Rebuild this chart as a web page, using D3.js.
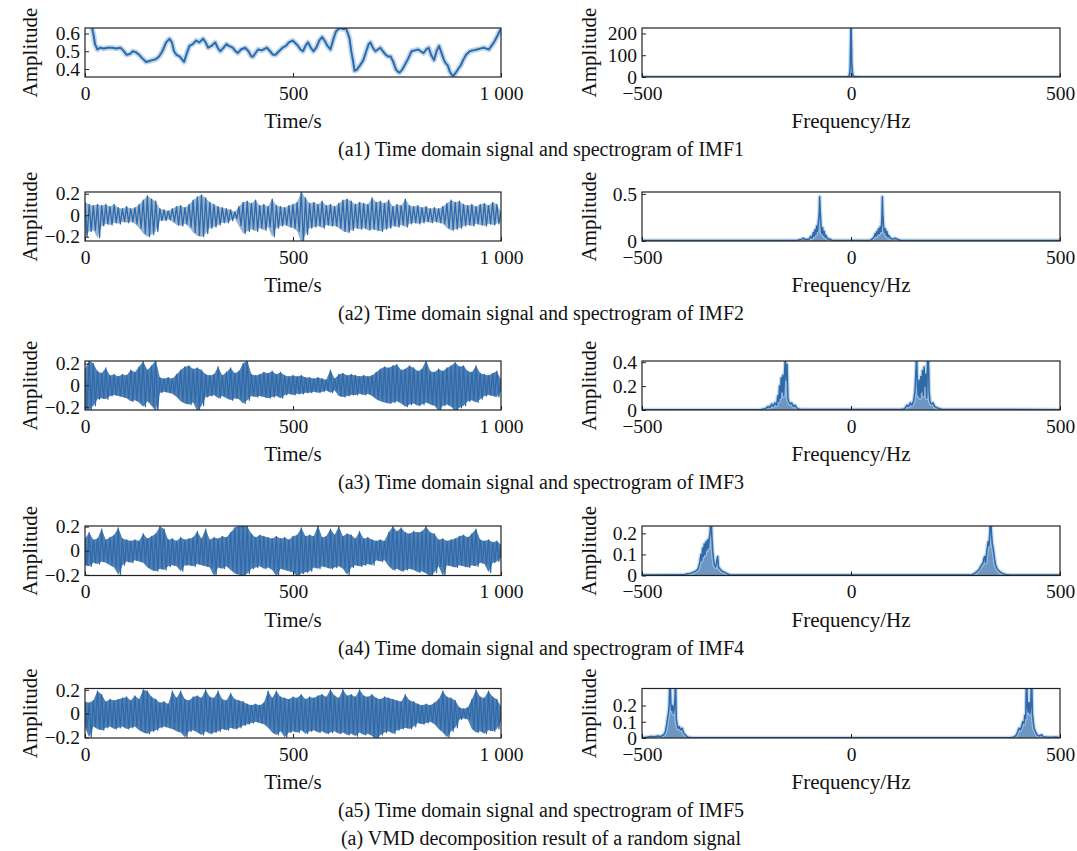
<!DOCTYPE html>
<html>
<head>
<meta charset="utf-8">
<script src="https://cdn.jsdelivr.net/npm/d3@7"></script>
<style>
  body { margin: 0; background: #fff; }
  svg text { font-family: "Liberation Serif", "Times New Roman", serif; fill: #111; }
</style>
</head>
<body>
<svg id="fig" width="1077" height="851"></svg>
<script>
// ---------- tick values and labels ----------
const timeTicks = [0, 500, 1000];
const timeTickLabels = ["0", "500", "1 000"];
const freqTicks = [-500, 0, 500];
const freqTickLabels = ["\u2212500", "0", "500"];

const captions = [
  "(a1) Time domain signal and spectrogram of IMF1",
  "(a2) Time domain signal and spectrogram of IMF2",
  "(a3) Time domain signal and spectrogram of IMF3",
  "(a4) Time domain signal and spectrogram of IMF4",
  "(a5) Time domain signal and spectrogram of IMF5"
];
const figureTitle = "(a) VMD decomposition result of a random signal";

// y-axis ranges and ticks for the time-domain panels
const timeYDomains = [[0.355, 0.631], [-0.24, 0.216], [-0.23, 0.224], [-0.206, 0.205], [-0.206, 0.211]];
const timeYTicks = [[0.4, 0.5, 0.6], [-0.2, 0, 0.2], [-0.2, 0, 0.2], [-0.2, 0, 0.2], [-0.2, 0, 0.2]];
// y-axis ranges and ticks for the spectrum panels
const specYDomains = [[0, 225], [0, 0.52], [0, 0.41], [0, 0.235], [0, 0.305]];
const specYTicks = [[0, 100, 200], [0, 0.5], [0, 0.2, 0.4], [0, 0.1, 0.2], [0, 0.1, 0.2]];

// ---------- IMF1: slow component, [time s, amplitude] ----------
const imf1Time = [
  [17,0.63],[20,0.60],[24,0.54],[30,0.51],[36,0.52],[45,0.515],[55,0.52],[65,0.52],[75,0.515],[85,0.52],
  [92,0.505],[100,0.48],[108,0.485],[115,0.50],[122,0.495],[130,0.48],[138,0.46],[147,0.44],[155,0.445],[162,0.45],
  [170,0.455],[178,0.47],[186,0.50],[195,0.55],[203,0.57],[209,0.55],[214,0.50],[220,0.48],[228,0.47],[238,0.44],
  [245,0.49],[251,0.53],[259,0.54],[267,0.56],[275,0.55],[284,0.57],[290,0.55],[296,0.52],[304,0.53],[313,0.55],
  [319,0.52],[325,0.50],[333,0.52],[340,0.54],[346,0.53],[355,0.52],[362,0.50],[367,0.49],[375,0.51],[385,0.52],
  [393,0.50],[400,0.47],[404,0.47],[410,0.49],[416,0.51],[425,0.505],[437,0.52],[445,0.50],[452,0.48],[458,0.48],
  [466,0.50],[475,0.52],[483,0.53],[490,0.55],[499,0.56],[506,0.545],[512,0.53],[518,0.51],[524,0.50],[530,0.53],
  [536,0.55],[543,0.52],[549,0.50],[556,0.52],[563,0.56],[570,0.58],[576,0.56],[583,0.53],[590,0.51],[596,0.56],
  [603,0.61],[609,0.625],[615,0.63],[621,0.625],[627,0.63],[632,0.60],[636,0.57],[640,0.50],[644,0.45],[648,0.39],
  [653,0.395],[661,0.42],[669,0.45],[676,0.50],[682,0.54],[686,0.55],[692,0.52],[698,0.50],[704,0.51],[710,0.52],
  [716,0.50],[723,0.48],[729,0.47],[735,0.47],[741,0.44],[747,0.40],[752,0.385],[756,0.38],[762,0.395],[768,0.42],
  [775,0.45],[781,0.48],[785,0.50],[793,0.505],[801,0.51],[807,0.50],[814,0.49],[820,0.51],[826,0.52],[832,0.48],
  [839,0.45],[845,0.50],[851,0.53],[857,0.49],[863,0.45],[868,0.43],[872,0.42],[877,0.385],[881,0.37],[885,0.36],
  [890,0.375],[897,0.40],[903,0.42],[909,0.45],[916,0.48],[925,0.50],[933,0.505],[942,0.51],[950,0.515],[958,0.52],
  [965,0.515],[971,0.51],[977,0.53],[983,0.55],[990,0.58],[996,0.61],[1000,0.625]
];

// ---------- IMF2..IMF5: oscillation envelopes, one value every 10 s (0..1000 s) ----------
const sampleTimes = d3.range(0, 1001, 10);

const imf2Upper = [0.12,0.10,0.09,0.10,0.09,0.10,0.08,0.10,0.07,0.06,
  0.08,0.06,0.07,0.10,0.14,0.18,0.15,0.13,0.06,0.05,
  0.04,0.06,0.08,0.09,0.07,0.10,0.14,0.17,0.19,0.16,
  0.12,0.10,0.08,0.07,0.06,0.05,0.03,0.08,0.12,0.13,
  0.11,0.14,0.09,0.10,0.08,0.15,0.09,0.08,0.07,0.09,
  0.10,0.12,0.22,0.16,0.11,0.12,0.10,0.13,0.09,0.10,
  0.08,0.11,0.14,0.15,0.13,0.10,0.12,0.11,0.10,0.16,
  0.12,0.13,0.11,0.14,0.08,0.10,0.09,0.15,0.09,0.08,
  0.09,0.07,0.08,0.06,0.07,0.06,0.08,0.11,0.14,0.12,
  0.13,0.10,0.09,0.10,0.08,0.10,0.11,0.09,0.12,0.10,0.03];
const imf2Lower = [-0.20,-0.15,-0.14,-0.21,-0.10,-0.08,-0.09,-0.07,-0.08,-0.06,
  -0.07,-0.06,-0.08,-0.12,-0.17,-0.20,-0.18,-0.15,-0.05,-0.05,
  -0.04,-0.06,-0.09,-0.10,-0.08,-0.11,-0.16,-0.19,-0.20,-0.17,
  -0.12,-0.11,-0.09,-0.07,-0.07,-0.05,-0.03,-0.10,-0.17,-0.15,
  -0.13,-0.15,-0.12,-0.14,-0.11,-0.20,-0.12,-0.10,-0.09,-0.11,
  -0.12,-0.15,-0.26,-0.18,-0.12,-0.11,-0.10,-0.12,-0.09,-0.10,
  -0.10,-0.12,-0.15,-0.16,-0.14,-0.12,-0.13,-0.12,-0.14,-0.13,
  -0.14,-0.15,-0.13,-0.12,-0.10,-0.11,-0.09,-0.11,-0.08,-0.07,
  -0.08,-0.07,-0.06,-0.07,-0.06,-0.07,-0.08,-0.12,-0.14,-0.13,
  -0.12,-0.10,-0.09,-0.10,-0.08,-0.09,-0.10,-0.08,-0.09,-0.08,-0.02];

const imf3Upper = [0.15,0.23,0.20,0.13,0.11,0.16,0.09,0.10,0.08,0.10,
  0.09,0.14,0.12,0.17,0.22,0.14,0.18,0.23,0.07,0.06,
  0.07,0.06,0.10,0.14,0.17,0.18,0.15,0.16,0.14,0.10,
  0.09,0.10,0.17,0.09,0.12,0.16,0.11,0.13,0.20,0.23,
  0.10,0.09,0.10,0.12,0.11,0.13,0.10,0.12,0.09,0.08,
  0.09,0.08,0.09,0.07,0.07,0.06,0.07,0.06,0.05,0.14,
  0.06,0.10,0.11,0.09,0.10,0.09,0.08,0.09,0.08,0.09,
  0.12,0.15,0.17,0.16,0.18,0.19,0.14,0.15,0.18,0.16,
  0.13,0.15,0.23,0.13,0.12,0.15,0.13,0.16,0.18,0.21,
  0.17,0.18,0.13,0.12,0.18,0.11,0.10,0.09,0.11,0.13,0.05];
const imf3Lower = [-0.22,-0.23,-0.19,-0.13,-0.12,-0.13,-0.10,-0.09,-0.10,-0.11,
  -0.12,-0.15,-0.14,-0.16,-0.20,-0.15,-0.19,-0.24,-0.07,-0.06,
  -0.07,-0.08,-0.11,-0.15,-0.17,-0.18,-0.16,-0.24,-0.19,-0.11,
  -0.10,-0.09,-0.12,-0.10,-0.12,-0.14,-0.12,-0.13,-0.17,-0.14,
  -0.10,-0.11,-0.10,-0.11,-0.12,-0.11,-0.10,-0.12,-0.09,-0.08,
  -0.09,-0.08,-0.08,-0.07,-0.07,-0.06,-0.07,-0.06,-0.05,-0.07,
  -0.05,-0.10,-0.11,-0.10,-0.09,-0.09,-0.08,-0.09,-0.08,-0.10,
  -0.13,-0.15,-0.16,-0.17,-0.16,-0.15,-0.17,-0.20,-0.18,-0.17,
  -0.19,-0.18,-0.16,-0.18,-0.19,-0.24,-0.19,-0.18,-0.20,-0.24,
  -0.21,-0.19,-0.15,-0.14,-0.16,-0.13,-0.10,-0.09,-0.10,-0.11,-0.05];

const imf4Upper = [0.10,0.15,0.09,0.10,0.18,0.09,0.11,0.13,0.19,0.10,
  0.09,0.08,0.09,0.08,0.14,0.10,0.12,0.14,0.20,0.18,
  0.09,0.10,0.08,0.11,0.09,0.10,0.11,0.16,0.10,0.18,
  0.09,0.11,0.10,0.12,0.11,0.15,0.19,0.21,0.21,0.20,
  0.14,0.11,0.13,0.12,0.11,0.10,0.12,0.10,0.11,0.09,
  0.12,0.13,0.19,0.12,0.13,0.12,0.21,0.11,0.12,0.18,
  0.13,0.20,0.12,0.14,0.13,0.10,0.16,0.10,0.11,0.09,
  0.08,0.09,0.08,0.15,0.20,0.16,0.19,0.15,0.14,0.16,
  0.15,0.16,0.20,0.15,0.14,0.09,0.10,0.08,0.09,0.10,
  0.12,0.13,0.11,0.14,0.18,0.09,0.08,0.09,0.07,0.08,0.05];
const imf4Lower = [-0.12,-0.13,-0.10,-0.11,-0.09,-0.10,-0.12,-0.14,-0.20,-0.12,
  -0.09,-0.10,-0.08,-0.09,-0.10,-0.14,-0.16,-0.17,-0.15,-0.16,
  -0.13,-0.12,-0.13,-0.17,-0.12,-0.12,-0.13,-0.11,-0.12,-0.13,
  -0.14,-0.21,-0.14,-0.15,-0.13,-0.16,-0.19,-0.20,-0.21,-0.19,
  -0.15,-0.14,-0.13,-0.15,-0.14,-0.16,-0.21,-0.15,-0.16,-0.17,
  -0.18,-0.21,-0.19,-0.18,-0.17,-0.14,-0.15,-0.13,-0.14,-0.15,
  -0.14,-0.13,-0.15,-0.20,-0.14,-0.12,-0.13,-0.12,-0.11,-0.12,
  -0.08,-0.09,-0.08,-0.13,-0.16,-0.15,-0.17,-0.16,-0.15,-0.16,
  -0.18,-0.17,-0.19,-0.21,-0.18,-0.13,-0.21,-0.12,-0.13,-0.14,
  -0.12,-0.13,-0.14,-0.12,-0.13,-0.10,-0.11,-0.18,-0.10,-0.09,-0.06];

const imf5Upper = [0.10,0.09,0.11,0.19,0.16,0.10,0.12,0.11,0.12,0.13,
  0.14,0.11,0.15,0.12,0.20,0.19,0.14,0.12,0.09,0.10,
  0.08,0.19,0.13,0.19,0.12,0.11,0.14,0.15,0.13,0.20,
  0.14,0.13,0.19,0.12,0.11,0.17,0.12,0.11,0.10,0.08,
  0.07,0.08,0.07,0.09,0.19,0.13,0.19,0.14,0.13,0.12,
  0.14,0.13,0.16,0.12,0.14,0.13,0.15,0.16,0.14,0.20,
  0.15,0.13,0.20,0.15,0.16,0.14,0.20,0.15,0.14,0.16,
  0.13,0.12,0.14,0.13,0.12,0.11,0.10,0.16,0.11,0.10,
  0.08,0.07,0.08,0.07,0.09,0.12,0.19,0.14,0.13,0.11,
  0.05,0.04,0.05,0.12,0.20,0.14,0.13,0.19,0.14,0.12,0.06];
const imf5Lower = [-0.12,-0.20,-0.11,-0.13,-0.14,-0.12,-0.11,-0.13,-0.12,-0.11,
  -0.13,-0.12,-0.11,-0.14,-0.16,-0.17,-0.15,-0.14,-0.12,-0.11,
  -0.12,-0.13,-0.15,-0.16,-0.20,-0.15,-0.14,-0.16,-0.18,-0.15,
  -0.17,-0.16,-0.15,-0.13,-0.14,-0.12,-0.13,-0.12,-0.10,-0.09,
  -0.08,-0.07,-0.08,-0.09,-0.12,-0.16,-0.18,-0.15,-0.20,-0.16,
  -0.15,-0.16,-0.14,-0.17,-0.15,-0.14,-0.16,-0.15,-0.17,-0.16,
  -0.15,-0.17,-0.16,-0.18,-0.17,-0.19,-0.16,-0.18,-0.17,-0.19,
  -0.22,-0.18,-0.16,-0.15,-0.17,-0.14,-0.13,-0.12,-0.13,-0.11,
  -0.08,-0.09,-0.08,-0.07,-0.09,-0.13,-0.16,-0.20,-0.15,-0.12,
  -0.05,-0.04,-0.05,-0.13,-0.16,-0.15,-0.17,-0.14,-0.15,-0.13,-0.06];

// ---------- spectra: [frequency Hz, amplitude] ----------
const imf1Spectrum = [[-500,0.4],[-20,0.5],[-8,1.5],[-4,6],[-2,40],[-1,150],[0,260],[1,170],[2,60],[4,10],[8,2],[20,0.6],[500,0.4]];

const imf2Spectrum = [[-500,0.004],[-130,0.005],[-118,0.02],[-114,0.03],[-110,0.015],[-100,0.02],[-96,0.05],[-93,0.03],
  [-90,0.09],[-88,0.05],[-86,0.12],[-84,0.07],[-82,0.16],[-80,0.1],[-78,0.2],[-76,0.3],[-75,0.47],[-74,0.35],[-72,0.18],
  [-70,0.08],[-68,0.14],[-66,0.06],[-64,0.1],[-62,0.04],[-60,0.06],[-56,0.02],[-50,0.02],[-45,0.005],[0,0.004],
  [45,0.005],[50,0.02],[55,0.04],[58,0.08],[60,0.05],[62,0.1],[64,0.07],[66,0.13],[68,0.08],[70,0.15],[72,0.1],
  [74,0.25],[75,0.47],[76,0.3],[78,0.15],[80,0.09],[82,0.13],[84,0.06],[86,0.1],[88,0.04],[90,0.06],[94,0.03],
  [100,0.02],[106,0.03],[112,0.015],[120,0.005],[500,0.004]];

const imf3Spectrum = [[-500,0.003],[-215,0.004],[-205,0.01],[-198,0.03],[-194,0.02],[-190,0.05],[-186,0.03],[-182,0.06],
  [-178,0.04],[-175,0.12],[-173,0.07],[-171,0.2],[-169,0.1],[-167,0.27],[-165,0.15],[-163,0.29],[-161,0.12],[-159,0.3],
  [-157,0.45],[-155,0.25],[-153,0.38],[-151,0.1],[-149,0.07],[-146,0.05],[-142,0.06],[-138,0.03],[-134,0.04],[-128,0.01],
  [-120,0.004],[120,0.004],[128,0.01],[134,0.04],[138,0.03],[142,0.06],[146,0.04],[150,0.08],[153,0.15],[155,0.3],
  [157,0.45],[159,0.2],[161,0.12],[163,0.25],[165,0.1],[167,0.28],[169,0.15],[171,0.33],[173,0.12],[175,0.36],
  [177,0.2],[179,0.3],[181,0.1],[183,0.42],[185,0.45],[187,0.15],[189,0.07],[192,0.05],[196,0.06],[200,0.03],
  [205,0.02],[212,0.01],[220,0.004],[500,0.003]];

const imf4Spectrum = [[-500,0.002],[-400,0.003],[-392,0.008],[-385,0.01],[-378,0.015],[-372,0.02],[-366,0.03],[-362,0.06],
  [-359,0.1],[-357,0.07],[-355,0.13],[-353,0.09],[-351,0.15],[-349,0.1],[-347,0.16],[-345,0.12],[-343,0.17],[-341,0.13],
  [-339,0.18],[-337,0.2],[-335,0.3],[-333,0.19],[-331,0.12],[-329,0.08],[-327,0.05],[-324,0.04],[-321,0.07],[-319,0.09],
  [-317,0.04],[-313,0.03],[-308,0.02],[-302,0.015],[-296,0.008],[-290,0.004],[-280,0.002],[280,0.002],[290,0.004],
  [296,0.01],[302,0.02],[307,0.03],[312,0.05],[316,0.06],[318,0.08],[320,0.09],[322,0.06],[324,0.1],[326,0.13],
  [328,0.16],[330,0.14],[332,0.2],[334,0.3],[336,0.2],[338,0.15],[340,0.13],[342,0.1],[344,0.07],[346,0.05],
  [350,0.03],[355,0.02],[362,0.01],[370,0.005],[380,0.002],[500,0.002]];

const imf5Spectrum = [[-500,0.002],[-490,0.004],[-478,0.01],[-470,0.008],[-462,0.012],[-455,0.01],[-448,0.02],[-444,0.04],
  [-441,0.08],[-439,0.12],[-437,0.15],[-435,0.2],[-433,0.4],[-431,0.22],[-429,0.17],[-427,0.2],[-425,0.15],[-423,0.18],
  [-421,0.25],[-420,0.4],[-418,0.12],[-416,0.08],[-414,0.06],[-411,0.07],[-408,0.05],[-404,0.06],[-400,0.03],[-395,0.015],
  [-390,0.005],[-380,0.002],[380,0.002],[388,0.005],[392,0.01],[396,0.02],[399,0.04],[402,0.06],[405,0.05],[408,0.07],
  [411,0.1],[414,0.09],[416,0.14],[418,0.12],[420,0.4],[422,0.2],[424,0.16],[426,0.22],[428,0.15],[430,0.2],[432,0.4],
  [434,0.15],[436,0.1],[438,0.06],[441,0.04],[445,0.02],[450,0.012],[456,0.02],[460,0.008],[470,0.005],[480,0.004],
  [490,0.006],[500,0.002]];

const envelopes = [null, [imf2Upper, imf2Lower], [imf3Upper, imf3Lower], [imf4Upper, imf4Lower], [imf5Upper, imf5Lower]];
const spectra = [imf1Spectrum, imf2Spectrum, imf3Spectrum, imf4Spectrum, imf5Spectrum];

// ---------- layout ----------
const W = 1077, H = 851;
const leftRange = [85, 501];
const rightRange = [642, 1060];
const rows = [
  { top: 28, bottom: 77 },
  { top: 192, bottom: 241 },
  { top: 361, bottom: 410 },
  { top: 526, bottom: 575.5 },
  { top: 688.5, bottom: 738 }
];
const lineBlue = "#2f69a8";
const haloBlue = "#a9cbe8";
const tickFont = 19.5, labelFont = 21, captionFont = 20;

const svg = d3.select("#fig");
svg.append("rect").attr("width", W).attr("height", H).attr("fill", "#fff");

function fmtTick(d) {
  if (d === 0) return "0";
  const s = Math.abs(d) >= 1 ? d3.format("d")(d) : d3.format(".1f")(d);
  return s.replace("-", "\u2212");
}

function drawPanel(idx, xRange, row, xScaleDomain, xTicks, xLabels, yDomain, yTicks, xTitle, ylabelGap, drawMarks) {
  const x = d3.scaleLinear().domain(xScaleDomain).range(xRange);
  const y = d3.scaleLinear().domain(yDomain).range([row.bottom, row.top]);
  const g = svg.append("g");
  const clipId = "clip-" + idx;
  g.append("clipPath").attr("id", clipId).append("rect")
    .attr("x", xRange[0]).attr("y", row.top)
    .attr("width", xRange[1] - xRange[0]).attr("height", row.bottom - row.top);

  const marks = g.append("g").attr("clip-path", `url(#${clipId})`);
  drawMarks(marks, x, y);

  // inward ticks on the bottom and left axes
  const xAxis = d3.axisBottom(x).tickValues(xTicks)
    .tickFormat((d, i) => xLabels[i]).tickSizeInner(-4).tickSizeOuter(0).tickPadding(9);
  const gx = g.append("g").attr("transform", `translate(0,${row.bottom})`).call(xAxis);
  const yAxis = d3.axisLeft(y).tickValues(yTicks)
    .tickFormat(fmtTick).tickSizeInner(-4).tickSizeOuter(0).tickPadding(5);
  const gy = g.append("g").attr("transform", `translate(${xRange[0]},0)`).call(yAxis);
  [gx, gy].forEach(a => {
    a.attr("font-family", null).attr("font-size", null);
    a.select(".domain").remove();
    a.selectAll(".tick line").attr("stroke", "#222").attr("stroke-width", 1);
    a.selectAll(".tick text").attr("font-size", tickFont).attr("fill", "#111");
  });

  // axes box
  g.append("rect").attr("x", xRange[0]).attr("y", row.top)
    .attr("width", xRange[1] - xRange[0]).attr("height", row.bottom - row.top)
    .attr("fill", "none").attr("stroke", "#222").attr("stroke-width", 1.2);

  // axis titles
  g.append("text").attr("x", (xRange[0] + xRange[1]) / 2).attr("y", row.bottom + 51)
    .attr("text-anchor", "middle").attr("font-size", labelFont).text(xTitle);
  g.append("text")
    .attr("transform", `translate(${xRange[0] - ylabelGap},${(row.top + row.bottom) / 2}) rotate(-90)`)
    .attr("text-anchor", "middle").attr("font-size", labelFont).text("Amplitude");
}

rows.forEach((row, i) => {
  // time-domain panel
  drawPanel("t" + i, leftRange, row, [0, 1000], timeTicks, timeTickLabels,
    timeYDomains[i], timeYTicks[i], "Time/s", 48, (m, x, y) => {
      const line = d3.line().x(d => x(d[0])).y(d => y(d[1]));
      if (i === 0) {
        m.append("path").datum(imf1Time).attr("d", line)
          .attr("fill", "none").attr("stroke", haloBlue).attr("stroke-width", 5.5)
          .attr("stroke-linejoin", "round").attr("opacity", 0.75);
        m.append("path").datum(imf1Time).attr("d", line)
          .attr("fill", "none").attr("stroke", lineBlue).attr("stroke-width", 2)
          .attr("stroke-linejoin", "round");
      } else {
        const [up, lo] = envelopes[i];
        // band between the envelopes, denser for the faster components
        const band = d3.area().x((t) => x(t)).y0((t, k) => y(lo[k])).y1((t, k) => y(up[k]));
        m.append("path").datum(sampleTimes).attr("d", band)
          .attr("fill", lineBlue).attr("opacity", i === 1 ? 0.5 : 0.85);
        // oscillation trace swinging between the upper and lower envelope
        const pts = sampleTimes.flatMap((t, k) => [[t, up[k]], [t + 5, lo[k]]]);
        m.append("path").datum(pts).attr("d", line)
          .attr("fill", "none").attr("stroke", lineBlue)
          .attr("stroke-width", i === 1 ? 1.3 : 1.2).attr("stroke-linejoin", "round");
      }
    });

  // spectrum panel
  drawPanel("f" + i, rightRange, row, [-500, 500], freqTicks, freqTickLabels,
    specYDomains[i], specYTicks[i], "Frequency/Hz", 46, (m, x, y) => {
      const line = d3.line().x(d => x(d[0])).y(d => y(d[1]));
      const fill = d3.area().x(d => x(d[0])).y0(y(0)).y1(d => y(d[1]));
      m.append("path").datum(spectra[i]).attr("d", fill)
        .attr("fill", lineBlue).attr("opacity", 0.7);
      m.append("path").datum(spectra[i]).attr("d", line)
        .attr("fill", "none").attr("stroke", haloBlue).attr("stroke-width", 4)
        .attr("stroke-linejoin", "round").attr("opacity", 0.7);
      m.append("path").datum(spectra[i]).attr("d", line)
        .attr("fill", "none").attr("stroke", lineBlue).attr("stroke-width", 1.5)
        .attr("stroke-linejoin", "round");
    });

  // sub-figure caption
  svg.append("text").attr("x", 541).attr("y", row.bottom + 79)
    .attr("text-anchor", "middle").attr("font-size", captionFont).text(captions[i]);
});

svg.append("text").attr("x", 541).attr("y", 845)
  .attr("text-anchor", "middle").attr("font-size", captionFont).text(figureTitle);
</script>
</body>
</html>
